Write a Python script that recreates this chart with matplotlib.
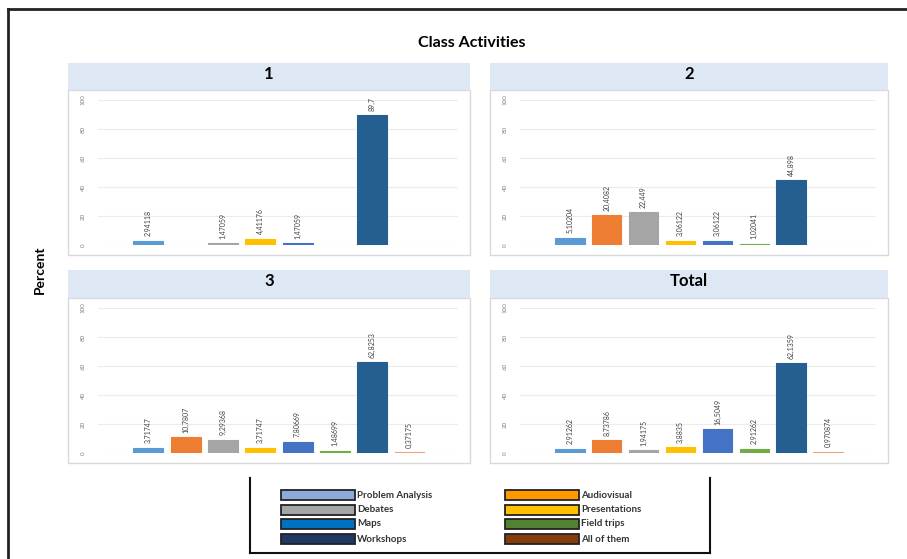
"""
Class Activities - percent of answers per group, four small panels.
"""

import numpy as np
import matplotlib
matplotlib.use("Agg")
import matplotlib.pyplot as plt
from matplotlib.patches import Rectangle
from matplotlib.lines import Line2D

plt.rcParams['font.family'] = ['Lato', 'DejaVu Sans']

# ---- data ----
activities = ['Problem Analysis', 'Audiovisual', 'Debates', 'Presentations',
              'Maps', 'Field trips', 'Workshops', 'All of them']
bar_colors = ['#5b9bd5', '#ed7d31', '#a5a5a5', '#ffc000',
              '#4472c4', '#70ad47', '#255e91', '#e9a27a']
legend_colors = ['#8eaadb', '#ff9900', '#a5a5a5', '#ffc000',
                 '#0070c0', '#548235', '#1f3864', '#843c0c']

panel_titles = ['1', '2', '3', 'Total']
group1 = [2.94118, np.nan, 1.47059, 4.41176, 1.47059, np.nan, 89.7, np.nan]
group2 = [5.10204, 20.4082, 22.449, 3.06122, 3.06122, 1.02041, 44.898, np.nan]
group3 = [3.71747, 10.7807, 9.29368, 3.71747, 7.80669, 1.48699, 62.8253, 0.37175]
total = [2.91262, 8.73786, 1.94175, 3.8835, 16.5049, 2.91262, 62.1359, 0.970874]
panel_values = [group1, group2, group3, total]

y_ticks = [0, 20, 40, 60, 80, 100]

W, H = 907, 559
fig = plt.figure(figsize=(W / 100, H / 100), dpi=100)


def rect(x0, y0, x1, y1):
    """pixel box (top-left origin) -> figure rect"""
    return [x0 / W, 1 - y1 / H, (x1 - x0) / W, (y1 - y0) / H]


def fig_rect(x0, y0, x1, y1, **kw):
    r = rect(x0, y0, x1, y1)
    fig.patches.append(Rectangle((r[0], r[1]), r[2], r[3],
                                 transform=fig.transFigure, zorder=-5, **kw))


# outer frame (left and top only are visible)
fig.lines.append(Line2D([8 / W, 8 / W], [0, 1 - 9 / H], transform=fig.transFigure,
                        color='#222222', lw=2))
fig.lines.append(Line2D([8 / W, 1], [1 - 9 / H, 1 - 9 / H], transform=fig.transFigure,
                        color='#222222', lw=2))

fig.text(472 / W, 1 - 43 / H, 'Class Activities', ha='center', va='center',
         fontsize=11.5, fontweight='bold')
fig.text(40 / W, 1 - 270 / H, 'Percent', ha='center', va='center',
         rotation=90, fontsize=10, fontweight='bold')

# panel boxes: (box x0, x1, header top, header bottom, box bottom)
panels = [(68, 470, 63, 90, 255), (490, 888, 63, 90, 255),
          (68, 470, 270, 298, 463), (490, 888, 270, 298, 463)]

for (bx0, bx1, ht, hb, bb), title, vals in zip(panels, panel_titles, panel_values):
    fig_rect(bx0, hb, bx1, bb, facecolor='white', edgecolor='#d9d9d9', lw=1)
    fig_rect(bx0, ht, bx1, hb, facecolor='#dde8f4', edgecolor='none')
    fig.text((bx0 + bx1) / 2 / W, 1 - (ht + 11) / H, title, ha='center',
             va='center', fontsize=12, fontweight='bold')

    ax = fig.add_axes(rect(bx0 + 30, hb + 10, bx1 - 12, bb - 10))
    ax.set_zorder(2)
    x = np.arange(len(activities))
    ax.bar(x, vals, width=0.8, color=bar_colors, edgecolor=bar_colors, lw=0.8, zorder=3)
    for xi, v in zip(x, vals):
        if np.isnan(v):
            continue
        ax.text(xi, v + 3, f"{v:g}".replace('.', ','), rotation=90, ha='center',
                va='bottom', fontsize=5, color='#404040')
    ax.set_xlim(-1.35, len(activities) + 0.3)
    ax.set_ylim(0, 100)
    ax.set_yticks(y_ticks)
    ax.set_yticklabels([str(t) for t in y_ticks], rotation=90, va='center',
                       fontsize=4.5, color='#808080')
    ax.tick_params(axis='y', length=0, pad=9)
    ax.set_xticks([])
    ax.grid(True, axis='y', color='#ececec', lw=0.8, zorder=0)
    for s in ax.spines.values():
        s.set_visible(False)
    ax.set_facecolor('none')

# legend box
lax = fig.add_axes(rect(250, 478, 710, 553))
lax.set_xlim(250, 710)
lax.set_ylim(553, 478)
lax.set_xticks([])
lax.set_yticks([])
lax.spines['top'].set_visible(False)
for s in ['left', 'right', 'bottom']:
    lax.spines[s].set_linewidth(1.5)
    lax.spines[s].set_color('#111111')

col_x = [281, 505]
row_y = [495, 510, 524, 539]
for i, (name, c) in enumerate(zip(activities, legend_colors)):
    cx = col_x[i % 2]
    ry = row_y[i // 2]
    lax.add_patch(Rectangle((cx, ry - 5), 74, 10, facecolor=c,
                            edgecolor='#222222', lw=1.3))
    lax.text(cx + 76, ry, name, va='center', ha='left', fontsize=7,
             fontweight='bold', color='#333333')

fig.savefig('out.png', dpi=100)
